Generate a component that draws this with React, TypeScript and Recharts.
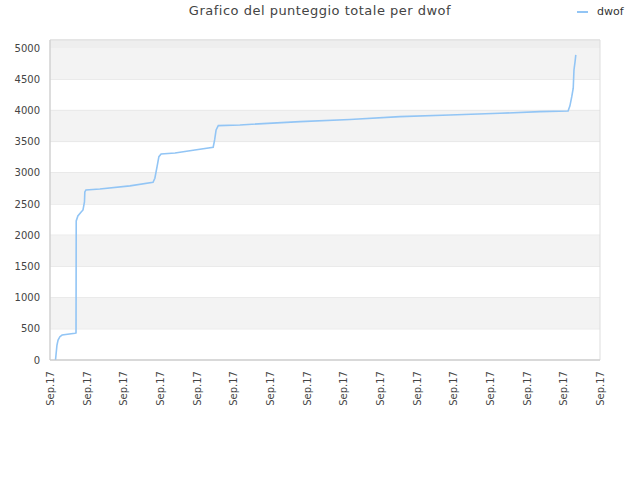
import React from 'react';
import {
  LineChart, Line, XAxis, YAxis, CartesianGrid, ReferenceArea,
} from 'recharts';

// x position (in tick units, 0..15) and total score
const xPos = [
  0.15, 0.19, 0.22, 0.27, 0.33, 0.68, 0.71, 0.715, 0.76, 0.85, 0.9, 0.94, 0.95, 0.98,
  1.36, 2.18, 2.81, 2.86, 2.92, 2.97, 3.03, 3.41, 3.95, 4.45, 4.49, 4.53, 4.59,
  5.18, 6.82, 8.18, 9.54, 10.9, 12.27, 13.36, 14.13, 14.18, 14.23, 14.27, 14.29, 14.32, 14.34,
];
const scores = [
  0, 240, 320, 373, 400, 428, 433, 2228, 2308, 2372, 2404, 2532, 2693, 2725,
  2741, 2790, 2849, 2913, 3099, 3259, 3302, 3318, 3366, 3410, 3527, 3687, 3756,
  3767, 3820, 3855, 3900, 3927, 3954, 3980, 3991, 4072, 4220, 4355, 4648, 4782, 4889,
];

const xTicks = [0, 1, 2, 3, 4, 5, 6, 7, 8, 9, 10, 11, 12, 13, 14, 15];
const xLabel = 'Sep.17';
const yTicks = [0, 500, 1000, 1500, 2000, 2500, 3000, 3500, 4000, 4500, 5000];
const yMax = 5128;
const greyBands = [[500, 1000], [1500, 2000], [2500, 3000], [3500, 4000], [4500, 5000]];

const data = xPos.map((x, i) => ({ x, score: scores[i] }));

const FONT = '"DejaVu Sans", sans-serif';

const XTick = (props: any) => {
  const { x, y } = props;
  return (
    <text
      x={x + 4}
      y={y}
      transform={`rotate(-90, ${x + 4}, ${y})`}
      textAnchor="end"
      fontSize={10}
      fontFamily={FONT}
      fill="#444"
    >
      {xLabel}
    </text>
  );
};

export default function App() {
  return (
    <div style={{ position: 'absolute', left: 0, top: 0, width: 640, height: 480, background: '#fff', fontFamily: FONT }}>
      <div style={{ position: 'absolute', left: 0, width: 640, top: 3, textAlign: 'center', fontSize: 13, letterSpacing: 0.5, color: '#444' }}>
        Grafico del punteggio totale per dwof
      </div>
      <div style={{ position: 'absolute', left: 577, top: 5, display: 'flex', alignItems: 'center', fontSize: 11, color: '#333' }}>
        <div style={{ width: 11, height: 2, background: '#92c5f5', marginRight: 9 }} />
        <span>dwof</span>
      </div>
      <LineChart
        width={640}
        height={480}
        data={data}
        margin={{ top: 40, right: 40, bottom: 0, left: 0 }}
      >
        {greyBands.map(([a, b], i) => (
          <ReferenceArea key={i} y1={a} y2={b} x1={0} x2={15} fill="#f3f3f3" fillOpacity={1} stroke="none" />
        ))}
        <ReferenceArea y1={5000} y2={yMax} x1={0} x2={15} fill="#eeeeee" fillOpacity={1} stroke="none" />
        <CartesianGrid vertical={false} stroke="#dddddd" />
        <ReferenceArea y1={0} y2={yMax} x1={0} x2={15} fill="none" stroke="#dddddd" />
        <XAxis
          dataKey="x"
          type="number"
          domain={[0, 15]}
          ticks={xTicks}
          interval={0}
          height={120}
          tick={<XTick />}
          tickLine={false}
          tickMargin={0}
          tickSize={11}
          axisLine={{ stroke: '#cccccc' }}
        />
        <YAxis
          type="number"
          domain={[0, yMax]}
          ticks={yTicks}
          interval={0}
          width={50}
          tickLine={false}
          tickSize={0}
          tickMargin={10}
          axisLine={{ stroke: '#cccccc' }}
          tick={{ fontSize: 10, fontFamily: FONT, fill: '#444' }}
        />
        <Line
          type="linear"
          dataKey="score"
          stroke="#92c5f5"
          strokeWidth={1.6}
          dot={false}
          isAnimationActive={false}
        />
      </LineChart>
    </div>
  );
}
